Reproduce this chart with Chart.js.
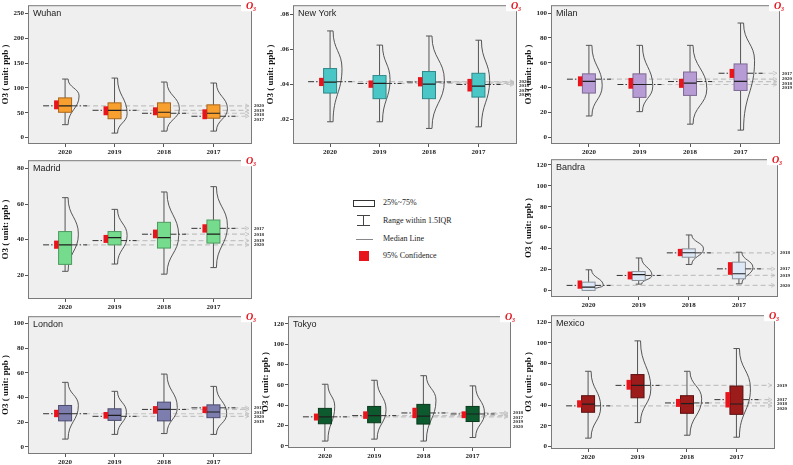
<!DOCTYPE html>
<html>
<head>
<meta charset="utf-8">
<script src="https://cdn.jsdelivr.net/npm/chart.js@4.4.1/dist/chart.umd.min.js"></script>
<style>
  html, body { margin: 0; padding: 0; background: #fff; }
  #page { position: relative; width: 793px; height: 465px; overflow: hidden; background: #fff; }
  #page canvas { position: absolute; }
  .lg { position: absolute; }
  .lg-t { position: absolute; font: 8px "Liberation Serif", serif; color: #222; line-height: 10px; white-space: nowrap; }
</style>
</head>
<body>
<div id="page">
  <!-- legend (middle of the grid) -->
  <div class="lg" style="left:353px;top:200px;width:20px;height:5px;border:1px solid #333;"></div>
  <div class="lg-t" style="left:383px;top:198px;">25%~75%</div>
  <div class="lg" style="left:357px;top:215px;width:13px;height:1px;background:#444;"></div>
  <div class="lg" style="left:363px;top:215px;width:1px;height:10px;background:#444;"></div>
  <div class="lg" style="left:357px;top:225px;width:13px;height:1px;background:#444;"></div>
  <div class="lg-t" style="left:383px;top:216px;">Range within 1.5IQR</div>
  <div class="lg" style="left:356px;top:239px;width:17px;height:1px;background:#888;"></div>
  <div class="lg-t" style="left:383px;top:234px;">Median Line</div>
  <div class="lg" style="left:359px;top:251px;width:10px;height:10px;background:#e8141c;"></div>
  <div class="lg-t" style="left:383px;top:251px;">95% Confidence</div>
</div>
<script>
// ---- data: categories + per-city box stats [whiskerLo, q1, median, q3, whiskerHi] ----
const years = ['2020', '2019', '2018', '2017'];

const wuhanBox = [[26, 51, 64, 80, 118], [9, 38, 55, 70, 120], [13, 41, 51, 70, 112], [13, 39, 49, 66, 110]];
const wuhanMean = [64, 55, 49, 43];
const wuhanCI = [[57, 75], [45, 63], [45, 61], [37, 57]];
const wuhanViolin = [[84, 1.0], [48, 0.9], [58, 1.1], [58, 1.0]];   // [peak value, relative density]
const wuhanTicks = [0, 50, 100, 150, 200, 250];

const nyBox = [[0.0187, 0.0351, 0.0413, 0.0491, 0.0706], [0.0187, 0.0319, 0.0406, 0.0451, 0.0625],
  [0.0149, 0.0319, 0.0402, 0.0474, 0.0677], [0.0158, 0.0328, 0.0391, 0.0464, 0.0653]];
const nyMean = [0.0416, 0.0406, 0.0414, 0.0400];
const nyCI = [[0.0391, 0.0438], [0.0381, 0.0423], [0.0389, 0.0442], [0.0360, 0.0432]];
const nyViolin = [[0.049, 0.85], [0.0428, 0.75], [0.0423, 1.1], [0.0423, 0.8]];
const nyTicks = [0.02, 0.04, 0.06, 0.08];

const milanBox = [[17, 35.5, 45, 51, 74], [20.5, 32, 42.4, 51, 74], [10.4, 33.6, 43.5, 52.5, 74], [5.6, 37.6, 45, 59, 92]];
const milanMean = [46.7, 42.4, 44.8, 51.5];
const milanCI = [[41, 49], [39, 47.7], [39.7, 47], [47.7, 55]];
const milanViolin = [[41.6, 0.95], [41, 0.95], [39, 1.2], [61.6, 1.0]];
const milanTicks = [0, 20, 40, 60, 80, 100];

const madridBox = [[22.1, 26, 37, 44.5, 63.6], [26.2, 37, 41.1, 44.5, 57], [20.5, 35.2, 41.1, 49.7, 66.8], [24.2, 38, 43, 51, 69.8]];
const madridMean = [37, 39.4, 43, 46.3];
const madridCI = [[34.8, 39.4], [38.1, 42.6], [40.7, 45.6], [43.9, 48.6]];
const madridViolin = [[43, 0.95], [42.2, 0.9], [42.2, 1.05], [47.8, 1.0]];
const madridTicks = [20, 40, 60, 80];

const bandraBox = [[0, 0, 3.2, 7.9, 19.7], [6, 9.5, 15, 18, 31], [24.8, 31.7, 36, 39.7, 53], [6.3, 11.1, 15.9, 27, 36.5]];
const bandraMean = [4.8, 14.3, 35.9, 20.6];
const bandraCI = [[1.6, 9.5], [10.5, 18], [32.7, 39.7], [14.9, 27]];
const bandraViolin = [[4.8, 1.05], [14.3, 0.95], [39.7, 1.05], [22, 1.0]];
const bandraTicks = [0, 20, 40, 60, 80, 100, 120];

const londonBox = [[6.2, 21, 26.8, 33.5, 52.3], [10, 21.4, 25.5, 30.8, 45], [10.7, 21, 30.3, 36.2, 59], [10, 23.6, 28.2, 34, 49]];
const londonMean = [26.8, 24.7, 30.3, 31.6];
const londonCI = [[24, 30], [22.8, 28.2], [26.8, 33], [27.3, 32.7]];
const londonViolin = [[33.5, 0.95], [28, 0.85], [32, 0.95], [26.8, 0.95]];
const londonTicks = [0, 20, 40, 60, 80, 100];

const tokyoBox = [[4.8, 21.8, 28.6, 36.9, 60.6], [6.7, 22.8, 29.8, 38.8, 64.5], [4.8, 21.5, 29.2, 40.8, 69], [8.3, 24, 31.4, 38.8, 59]];
const tokyoMean = [28.6, 29.8, 32.4, 31.4];
const tokyoCI = [[25, 31.8], [26.6, 34], [27.3, 37.5], [27.3, 34]];
const tokyoViolin = [[38.8, 0.7], [35.6, 0.85], [45, 0.9], [32.4, 0.85]];
const tokyoTicks = [0, 20, 40, 60, 80, 100, 120];

const mexicoBox = [[8, 33, 40.8, 49, 72.6], [23, 47, 59, 69.4, 102], [10.8, 32, 41.4, 49, 72.6], [8.9, 31, 41, 58.3, 94.6]];
const mexicoMean = [39.2, 59, 42, 45.2];
const mexicoCI = [[37.6, 44.6], [54.8, 64.3], [38.2, 45.9], [37.6, 52.5]];
const mexicoViolin = [[38.2, 0.9], [55.7, 0.95], [46, 1.05], [55.7, 1.0]];
const mexicoTicks = [0, 20, 40, 60, 80, 100, 120];

(function () {
  'use strict';

  // panel placement (plot frame in page px) + axis range + colours
  const panels = [
    { name: 'Wuhan', box: wuhanBox, mean: wuhanMean, ci: wuhanCI, violin: wuhanViolin, ticks: wuhanTicks,
      min: -13, max: 267, l: 28, r: 252, t: 4, b: 144, fill: '#f7a030', edge: '#a8651c' },
    { name: 'New York', box: nyBox, mean: nyMean, ci: nyCI, violin: nyViolin, ticks: nyTicks,
      min: 0.006, max: 0.0853, l: 293, r: 517, t: 4, b: 144, fill: '#4ac6c6', edge: '#2f8888', dot: true },
    { name: 'Milan', box: milanBox, mean: milanMean, ci: milanCI, violin: milanViolin, ticks: milanTicks,
      min: -5.6, max: 106.4, l: 551, r: 780, t: 4, b: 144, fill: '#b69bd4', edge: '#7f6a94' },
    { name: 'Madrid', box: madridBox, mean: madridMean, ci: madridCI, violin: madridViolin, ticks: madridTicks,
      min: 6.5, max: 84.7, l: 28, r: 252, t: 159, b: 299, fill: '#74dc8c', edge: '#4f9a60' },
    { name: 'Bandra', box: bandraBox, mean: bandraMean, ci: bandraCI, violin: bandraViolin, ticks: bandraTicks,
      min: -6.3, max: 125.4, l: 551, r: 778, t: 158, b: 297, fill: '#dce8f5', edge: '#8a8f98' },
    { name: 'London', box: londonBox, mean: londonMean, ci: londonCI, violin: londonViolin, ticks: londonTicks,
      min: -5.9, max: 106, l: 28, r: 252, t: 315, b: 454, fill: '#7d7dae', edge: '#4c4c70' },
    { name: 'Tokyo', box: tokyoBox, mean: tokyoMean, ci: tokyoCI, violin: tokyoViolin, ticks: tokyoTicks,
      min: -2, max: 127.4, l: 288, r: 511, t: 315, b: 448, fill: '#0d5a2e', edge: '#083a1c' },
    { name: 'Mexico', box: mexicoBox, mean: mexicoMean, ci: mexicoCI, violin: mexicoViolin, ticks: mexicoTicks,
      min: -2.5, max: 126.8, l: 551, r: 775, t: 314, b: 449, fill: '#9c1c1c', edge: '#5a0e0e' },
  ];

  const AXIS_W = 28, AXIS_H = 14, PAD_R = 14, PAD_T = 4;
  const SERIF = '"Liberation Serif", "Times New Roman", serif';

  function makeBoxPlugin(p) {
    return {
      id: 'o3box',
      beforeDraw(chart) {
        const { ctx, chartArea: a } = chart;
        ctx.save();
        ctx.fillStyle = '#efefef';
        ctx.fillRect(a.left, a.top, a.right - a.left, a.bottom - a.top);
        ctx.restore();
      },
      afterDatasetsDraw(chart) {
        const { ctx, chartArea: a } = chart;
        const xs = chart.scales.x, ys = chart.scales.y;
        const Y = v => ys.getPixelForValue(v);
        ctx.save();
        ctx.beginPath();
        ctx.rect(a.left, a.top, a.right - a.left, a.bottom - a.top);
        ctx.clip();

        // light dashed reference lines running to the right edge
        p.mean.forEach((m, i) => {
          const cx = xs.getPixelForValue(i + 1), y = Y(m);
          ctx.strokeStyle = '#c2c2c2';
          ctx.lineWidth = 1.2;
          ctx.setLineDash([5, 3]);
          ctx.beginPath(); ctx.moveTo(cx + 20, y); ctx.lineTo(a.right - 3, y); ctx.stroke();
          ctx.setLineDash([]);
          ctx.lineWidth = 0.8;
          ctx.beginPath(); ctx.moveTo(a.right - 7, y - 2); ctx.lineTo(a.right - 3, y); ctx.lineTo(a.right - 7, y + 2); ctx.stroke();
        });

        p.box.forEach((bx, i) => {
          const [lo, q1, med, q3, hi] = bx;
          const cx = xs.getPixelForValue(i + 1);
          const yTop = Y(hi), yBot = Y(lo), yPk = Y(p.violin[i][0]);
          const w = p.violin[i][1] * 14;

          // half violin on the right
          ctx.strokeStyle = '#454545';
          ctx.lineWidth = 0.9;
          const x0 = cx + 3, xp = cx + w;
          const d1 = yPk - yTop, d2 = yBot - yPk;
          ctx.beginPath();
          ctx.moveTo(x0, yTop);
          ctx.bezierCurveTo(x0, yTop + d1 * 0.5, xp, yPk - d1 * 0.45, xp, yPk);
          ctx.bezierCurveTo(xp, yPk + d2 * 0.45, x0, yBot - d2 * 0.5, x0, yBot);
          ctx.stroke();

          // whisker + caps
          ctx.strokeStyle = '#555';
          ctx.lineWidth = 1;
          ctx.beginPath();
          ctx.moveTo(cx, yTop); ctx.lineTo(cx, yBot);
          ctx.moveTo(cx - 3, yTop); ctx.lineTo(cx + 3, yTop);
          ctx.moveTo(cx - 3, yBot); ctx.lineTo(cx + 3, yBot);
          ctx.stroke();

          // IQR box
          const y3 = Y(q3), y1 = Y(q1);
          ctx.fillStyle = p.fill;
          ctx.fillRect(cx - 6.5, y3, 13, y1 - y3);
          ctx.strokeStyle = p.edge;
          ctx.strokeRect(cx - 6.5, y3, 13, y1 - y3);

          // median
          ctx.strokeStyle = '#1e1e1e';
          ctx.lineWidth = 1.2;
          ctx.beginPath(); ctx.moveTo(cx - 6.5, Y(med)); ctx.lineTo(cx + 6.5, Y(med)); ctx.stroke();

          // dark dash-dot part of the mean line around its own box
          const ym = Y(p.mean[i]);
          ctx.strokeStyle = '#333';
          ctx.lineWidth = 1;
          ctx.setLineDash([6, 2, 1.5, 2]);
          ctx.beginPath(); ctx.moveTo(cx - 22, ym); ctx.lineTo(cx - 11, ym);
          ctx.moveTo(cx + 6.5, ym); ctx.lineTo(cx + 22, ym); ctx.stroke();
          ctx.setLineDash([]);

          // 95% confidence bar
          const c = p.ci[i];
          ctx.fillStyle = '#e8141c';
          ctx.fillRect(cx - 11, Y(c[1]), 4.5, Y(c[0]) - Y(c[1]));
        });
        ctx.restore();
      },
      afterDraw(chart) {
        const { ctx, chartArea: a } = chart;
        const ys = chart.scales.y;
        ctx.save();
        // frame
        ctx.strokeStyle = '#7a7a7a';
        ctx.lineWidth = 1;
        ctx.strokeRect(a.left + 0.5, a.top + 0.5, a.right - a.left - 1, a.bottom - a.top - 1);

        // city name
        ctx.fillStyle = '#222';
        ctx.font = '9px "Liberation Sans", Arial, sans-serif';
        ctx.textBaseline = 'middle';
        ctx.fillText(p.name, a.left + 5, a.top + 8);

        // year tags at right of reference lines, stacked without overlap
        const order = p.mean.map((m, i) => ({ i, y: ys.getPixelForValue(m) })).sort((u, v) => u.y - v.y);
        let prev = -Infinity;
        ctx.font = 'bold 5px ' + SERIF;
        ctx.fillStyle = '#222';
        order.forEach(o => {
          const y = Math.max(o.y, prev + 4.5);
          ctx.fillText(years[o.i], a.right + 2, y);
          prev = y;
        });

        // O3 badge at top-right corner
        ctx.fillStyle = '#fff';
        ctx.fillRect(a.right - 11, a.top - 4, 22, 10);
        ctx.fillStyle = '#e0141c';
        ctx.font = 'italic bold 10px ' + SERIF;
        ctx.textBaseline = 'alphabetic';
        ctx.fillText('O', a.right - 6, a.top + 4);
        ctx.font = 'italic bold 6px ' + SERIF;
        ctx.fillText('3', a.right + 1, a.top + 6);
        ctx.restore();
      },
    };
  }

  const page = document.getElementById('page');
  panels.forEach(p => {
    const cv = document.createElement('canvas');
    const w = (p.r - p.l) + AXIS_W + PAD_R;
    const h = (p.b - p.t) + PAD_T + AXIS_H;
    cv.width = w; cv.height = h;
    cv.style.left = (p.l - AXIS_W) + 'px';
    cv.style.top = (p.t - PAD_T) + 'px';
    cv.style.width = w + 'px'; cv.style.height = h + 'px';
    page.appendChild(cv);

    new Chart(cv, {
      type: 'scatter',
      data: { datasets: [{ data: p.box.map((b, i) => ({ x: i + 1, y: b[2] })), pointRadius: 0 }] },
      options: {
        responsive: false, animation: false, events: [],
        layout: { padding: { left: 0, right: PAD_R, top: PAD_T, bottom: 0 } },
        plugins: { legend: { display: false }, tooltip: { enabled: false } },
        scales: {
          x: {
            type: 'linear', min: 0.25, max: 4.78,
            afterBuildTicks: s => { s.ticks = years.map((y, i) => ({ value: i + 1 })); },
            afterFit: s => { s.height = AXIS_H; },
            grid: { display: true, drawOnChartArea: false, tickLength: 3, color: '#555' },
            border: { display: false },
            ticks: { callback: v => years[Math.round(v) - 1] || '', padding: 1, maxRotation: 0,
              font: { family: SERIF, size: 7, weight: 'bold' }, color: '#222' },
          },
          y: {
            type: 'linear', min: p.min, max: p.max,
            afterBuildTicks: s => { s.ticks = p.ticks.map(v => ({ value: v })); },
            afterFit: s => { s.width = AXIS_W; },
            grid: { display: true, drawOnChartArea: false, tickLength: 3, color: '#555' },
            border: { display: false },
            ticks: { callback: v => p.dot ? String(v).replace(/^0/, '') : String(v), padding: 1,
              font: { family: SERIF, size: 7, weight: 'bold' }, color: '#222' },
            title: { display: true, text: 'O3 ( unit: ppb )', padding: { top: 0, bottom: 1 },
              font: { family: SERIF, size: 9, weight: 'bold' }, color: '#111' },
          },
        },
      },
      plugins: [makeBoxPlugin(p)],
    });
  });
})();
</script>
</body>
</html>
